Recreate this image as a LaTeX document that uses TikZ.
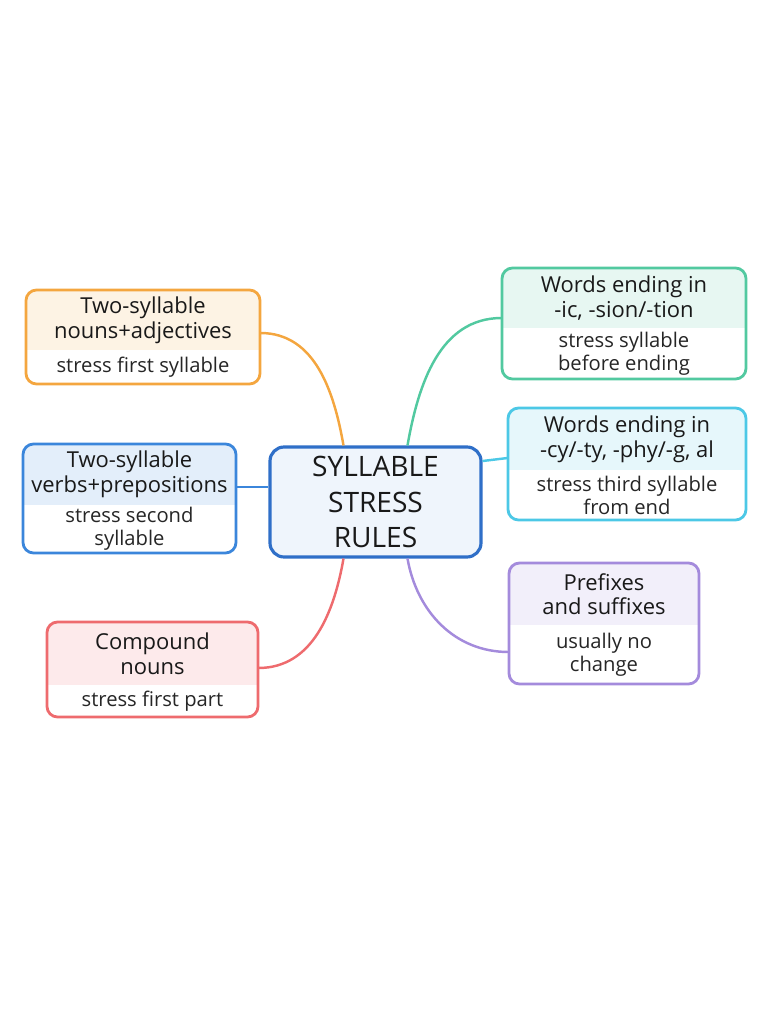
\documentclass[tikz,border=0pt]{standalone}
\usepackage{fontspec}
\setmainfont{Open Sans}
\definecolor{corange}{HTML}{F4A63F}
\definecolor{cblue}{HTML}{3B86DB}
\definecolor{cred}{HTML}{EE6B6E}
\definecolor{cgreen}{HTML}{52C9A0}
\definecolor{ccyan}{HTML}{4CC8E6}
\definecolor{cpurple}{HTML}{A48BDC}
\definecolor{ccenter}{HTML}{2F6FC8}
\tikzset{
  link/.style={line width=1.4pt},
  hdtext/.style={font=\fontsize{12.5}{14}\selectfont, align=center, text=black!90},
  bdtext/.style={font=\fontsize{11.5}{13}\selectfont, align=center, text=black!85},
}
% name, colour, x1, y1, x2, y2, header bottom, header, body
\newcommand{\rulebox}[9]{%
  \coordinate (#1-nw) at (#3,#4);
  \coordinate (#1-se) at (#5,#6);
  \begin{scope}
    \clip[rounded corners=6pt] (#1-nw) rectangle (#1-se);
    \fill[white] (#1-nw) rectangle (#1-se);
    \fill[#2!14] (#1-nw) rectangle (#5,#7);
  \end{scope}
  \draw[#2, line width=1.6pt, rounded corners=6pt] (#1-nw) rectangle (#1-se);
  \node[hdtext] (#1-head) at ({(#3+#5)/2},{(#4+#7)/2}) {#8};
  \node[bdtext] (#1-body) at ({(#3+#5)/2},{(#7+#6)/2}) {#9};
  \path (#1-nw) rectangle (#1-se) node[pos=0.5, minimum width={(#5-#3)*0.02cm}, minimum height={(#6-#4)*0.02cm}, inner sep=0] (#1) {};
}
\begin{document}
\begin{tikzpicture}[x=0.02cm, y=-0.02cm]
\useasboundingbox (0,0) rectangle (768,1024);

% central topic
\node[draw=ccenter, fill=cblue!8, line width=1.8pt, rounded corners=8pt,
      minimum width=211*0.02cm, minimum height=110*0.02cm, align=center,
      font=\fontsize{16}{20}\selectfont, text=black!90]
      (main) at (375.5,502) {SYLLABLE\\STRESS\\RULES};

% branches
\rulebox{nouns}{corange}{26}{290}{260}{384}{350}{Two-syllable\\nouns+adjectives}{stress first syllable}
\rulebox{verbs}{cblue}{23}{444}{236}{553}{505}{Two-syllable\\verbs+prepositions}{stress second\\syllable}
\rulebox{compound}{cred}{47}{622}{258}{717}{685}{Compound\\nouns}{stress first part}
\rulebox{ic}{cgreen}{502}{268}{746}{379}{328}{Words ending in\\-ic, -sion/-tion}{stress syllable\\before ending}
\rulebox{cy}{ccyan}{508}{408}{746}{520}{470}{Words ending in\\-cy/-ty, -phy/-g, al}{stress third syllable\\from end}
\rulebox{prefix}{cpurple}{509}{563}{699}{684}{625}{Prefixes\\and suffixes}{usually no\\change}

% connectors
\draw[link, corange] (nouns.east |- 0,333) to[out=0, in=100] ([xshift=-32*0.02cm]main.north);
\draw[link, cblue] (verbs.east |- 0,487) -- (main.west |- 0,487);
\draw[link, cred] (compound.east |- 0,668) to[out=0, in=-100] ([xshift=-32*0.02cm]main.south);
\draw[link, cgreen] (ic.west |- 0,318) to[out=180, in=80] ([xshift=32*0.02cm]main.north);
\draw[link, ccyan] (cy.west |- 0,458) -- (main.east |- 0,461);
\draw[link, cpurple] (prefix.west |- 0,652) to[out=180, in=-80] ([xshift=32*0.02cm]main.south);
\end{tikzpicture}
\end{document}
